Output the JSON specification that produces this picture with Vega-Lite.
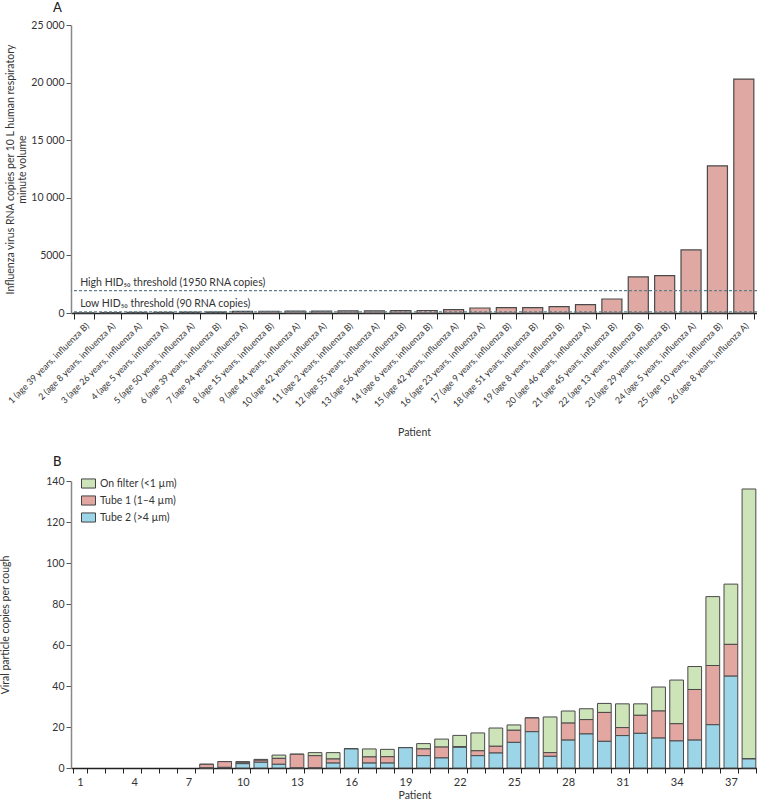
{
  "$schema": "https://vega.github.io/schema/vega-lite/v6.json",
  "padding": {"left": 0, "top": 2, "right": 0, "bottom": 0},
  "background": "white",
  "config": {
    "font": "Lato",
    "view": {"stroke": null},
    "axis": {"labelColor": "#333", "titleColor": "#333", "titleFontWeight": "normal", "labelFont": "Lato", "titleFont": "Lato"},
    "title": {"font": "Lato", "color": "#222"}
  },
  "datasets": {
    "influenza": [
      {"label": "1 (age 39 years, influenza B)", "copies": 20},
      {"label": "2 (age 8 years, influenza A)", "copies": 40},
      {"label": "3 (age 26 years, influenza A)", "copies": 50},
      {"label": "4 (age 5 years, influenza A)", "copies": 60},
      {"label": "5 (age 50 years, influenza A)", "copies": 70},
      {"label": "6 (age 39 years, influenza B)", "copies": 90},
      {"label": "7 (age 94 years, influenza A)", "copies": 140},
      {"label": "8 (age 15 years, influenza B)", "copies": 150},
      {"label": "9 (age 44 years, influenza A)", "copies": 160},
      {"label": "10 (age 42 years, influenza A)", "copies": 170},
      {"label": "11 (age 2 years, influenza B)", "copies": 180},
      {"label": "12 (age 55 years, influenza A)", "copies": 190},
      {"label": "13 (age 56 years, influenza B)", "copies": 205},
      {"label": "14 (age 6 years, influenza B)", "copies": 215},
      {"label": "15 (age 42 years, influenza A)", "copies": 290},
      {"label": "16 (age 23 years, influenza A)", "copies": 435},
      {"label": "17 (age 9 years, influenza B)", "copies": 463},
      {"label": "18 (age 51 years, influenza B)", "copies": 470},
      {"label": "19 (age 8 years, influenza B)", "copies": 550},
      {"label": "20 (age 46 years, influenza A)", "copies": 724},
      {"label": "21 (age 45 years, influenza B)", "copies": 1217},
      {"label": "22 (age 13 years, influenza B)", "copies": 3130},
      {"label": "23 (age 29 years, influenza B)", "copies": 3245},
      {"label": "24 (age 5 years, influenza A)", "copies": 5475},
      {"label": "25 (age 10 years, influenza B)", "copies": 12775},
      {"label": "26 (age 8 years, influenza A)", "copies": 20310}
    ],
    "thresholds": [
      {"value": 1950, "label": "High HID₅₀ threshold (1950 RNA copies)"},
      {"value": 90, "label": "Low HID₅₀ threshold (90 RNA copies)"}
    ],
    "cough": [
      {"patient": 8, "tube2": 0, "tube1": 1.8, "filter": 0},
      {"patient": 9, "tube2": 0.3, "tube1": 2.8, "filter": 0},
      {"patient": 10, "tube2": 2.1, "tube1": 0.7, "filter": 0.3},
      {"patient": 11, "tube2": 2.8, "tube1": 1.0, "filter": 0.4},
      {"patient": 12, "tube2": 1.8, "tube1": 2.9, "filter": 1.6},
      {"patient": 13, "tube2": 0, "tube1": 6.7, "filter": 0},
      {"patient": 14, "tube2": 0, "tube1": 6.0, "filter": 1.5},
      {"patient": 15, "tube2": 2.4, "tube1": 2.0, "filter": 3.1},
      {"patient": 16, "tube2": 9.3, "tube1": 0, "filter": 0},
      {"patient": 17, "tube2": 2.4, "tube1": 3.0, "filter": 3.9},
      {"patient": 18, "tube2": 2.4, "tube1": 3.1, "filter": 3.6},
      {"patient": 19, "tube2": 9.9, "tube1": 0, "filter": 0},
      {"patient": 20, "tube2": 6.0, "tube1": 3.3, "filter": 2.6},
      {"patient": 21, "tube2": 4.9, "tube1": 5.3, "filter": 3.9},
      {"patient": 22, "tube2": 10.1, "tube1": 0.3, "filter": 5.5},
      {"patient": 23, "tube2": 6.0, "tube1": 2.4, "filter": 8.7},
      {"patient": 24, "tube2": 7.3, "tube1": 3.3, "filter": 8.9},
      {"patient": 25, "tube2": 12.5, "tube1": 5.9, "filter": 2.6},
      {"patient": 26, "tube2": 17.7, "tube1": 6.7, "filter": 0},
      {"patient": 27, "tube2": 5.7, "tube1": 1.8, "filter": 17.4},
      {"patient": 28, "tube2": 13.6, "tube1": 8.3, "filter": 5.9},
      {"patient": 29, "tube2": 16.6, "tube1": 7.0, "filter": 5.3},
      {"patient": 30, "tube2": 13.0, "tube1": 14.1, "filter": 4.4},
      {"patient": 31, "tube2": 15.8, "tube1": 3.9, "filter": 11.6},
      {"patient": 32, "tube2": 16.9, "tube1": 8.8, "filter": 5.6},
      {"patient": 33, "tube2": 14.6, "tube1": 13.2, "filter": 11.7},
      {"patient": 34, "tube2": 13.2, "tube1": 8.4, "filter": 21.3},
      {"patient": 35, "tube2": 13.6, "tube1": 24.7, "filter": 11.2},
      {"patient": 36, "tube2": 21.1, "tube1": 28.9, "filter": 33.6},
      {"patient": 37, "tube2": 44.8, "tube1": 15.5, "filter": 29.4},
      {"patient": 38, "tube2": 4.4, "tube1": 0, "filter": 131.7}
    ]
  },
  "resolve": {"legend": {"color": "independent"}},
  "vconcat": [
    {
      "width": 686,
      "height": 288,
      "title": {"text": "A", "anchor": "start", "frame": "group", "dx": -18, "offset": 5, "fontSize": 13, "fontWeight": 500},
      "layer": [
        {
          "data": {"name": "influenza"},
          "mark": {"type": "bar", "fill": "#e0a8a2", "stroke": "#4a4a4a", "strokeWidth": 1.2},
          "encoding": {
            "x": {
              "field": "label", "type": "nominal", "sort": null,
              "scale": {"paddingInner": 0.24, "paddingOuter": 0.12},
              "axis": {"title": "Patient", "labelAngle": -45, "labelFontSize": 9, "tickBand": "extent", "tickSize": 6, "tickColor": "#222", "domainColor": "#222", "domainWidth": 1.5, "labelPadding": 2, "titleFontSize": 10.5, "titlePadding": 18}
            },
            "y": {
              "field": "copies", "type": "quantitative",
              "scale": {"domain": [0, 25000], "nice": false},
              "axis": {
                "title": ["Influenza virus RNA copies per 10 L human respiratory", "minute volume"],
                "values": [0, 5000, 10000, 15000, 20000, 25000],
                "labelExpr": "datum.value >= 10000 ? replace(format(datum.value, ','), ',', ' ') : format(datum.value, 'd')",
                "grid": false, "tickSize": 5, "tickColor": "#555", "domainColor": "#888", "domainWidth": 1.5,
                "labelFontSize": 10.5, "titleFontSize": 10.5, "titlePadding": 3, "titleLineHeight": 12
              }
            }
          }
        },
        {
          "data": {"name": "thresholds"},
          "mark": {"type": "rule", "strokeDash": [3, 2], "color": "#607f8a", "strokeWidth": 1.2},
          "encoding": {"y": {"field": "value", "type": "quantitative"}}
        },
        {
          "data": {"name": "thresholds"},
          "mark": {"type": "text", "align": "left", "baseline": "alphabetic", "dx": 6, "dy": -5, "fontSize": 10.5, "color": "#333"},
          "encoding": {
            "x": {"datum": "1 (age 39 years, influenza B)", "type": "nominal", "bandPosition": 0},
            "y": {"field": "value", "type": "quantitative"},
            "text": {"field": "label"}
          }
        }
      ]
    },
    {
      "width": 687,
      "height": 287,
      "title": {"text": "B", "anchor": "start", "frame": "group", "dx": -18, "offset": 7, "fontSize": 13, "fontWeight": 500},
      "data": {"name": "cough"},
      "transform": [{"fold": ["filter", "tube1", "tube2"], "as": ["fraction", "copies"]}],
      "mark": {"type": "bar", "stroke": "#4a4a4a", "strokeWidth": 1},
      "encoding": {
        "x": {
          "field": "patient", "type": "ordinal",
          "scale": {"domain": [1,2,3,4,5,6,7,8,9,10,11,12,13,14,15,16,17,18,19,20,21,22,23,24,25,26,27,28,29,30,31,32,33,34,35,36,37,38], "paddingInner": 0.24, "paddingOuter": 0.12},
          "axis": {"title": "Patient", "labelAngle": 0, "tickBand": "extent", "labelExpr": "(datum.value - 1) % 3 == 0 ? datum.label : ''", "tickSize": 5, "tickColor": "#222", "domainColor": "#222", "domainWidth": 1.5, "labelFontSize": 11, "titleFontSize": 10.5, "labelPadding": 3, "titlePadding": 3}
        },
        "y": {
          "field": "copies", "type": "quantitative", "stack": "zero",
          "scale": {"domain": [0, 140], "nice": false},
          "axis": {"title": "Viral particle copies per cough", "values": [0, 20, 40, 60, 80, 100, 120, 140], "grid": false, "tickSize": 5, "tickColor": "#555", "domainColor": "#888", "domainWidth": 1.5, "labelFontSize": 10.5, "titleFontSize": 10.5, "titlePadding": 35}
        },
        "color": {
          "field": "fraction", "type": "nominal",
          "scale": {"domain": ["filter", "tube1", "tube2"], "range": ["#cde3b8", "#e3a7a2", "#9dd5e8"]},
          "legend": {
            "title": null, "orient": "none", "legendX": 10, "legendY": -5,
            "labelExpr": "datum.label == 'filter' ? 'On filter (<1 µm)' : datum.label == 'tube1' ? 'Tube 1 (1–4 µm)' : 'Tube 2 (>4 µm)'",
            "symbolType": "M-1,-0.65H1V0.65H-1Z", "symbolSize": 196, "symbolStrokeColor": "#444", "symbolStrokeWidth": 1,
            "labelFontSize": 10.5, "labelColor": "#333", "rowPadding": 2, "padding": 0
          }
        }
      }
    }
  ],
  "spacing": 18
}
